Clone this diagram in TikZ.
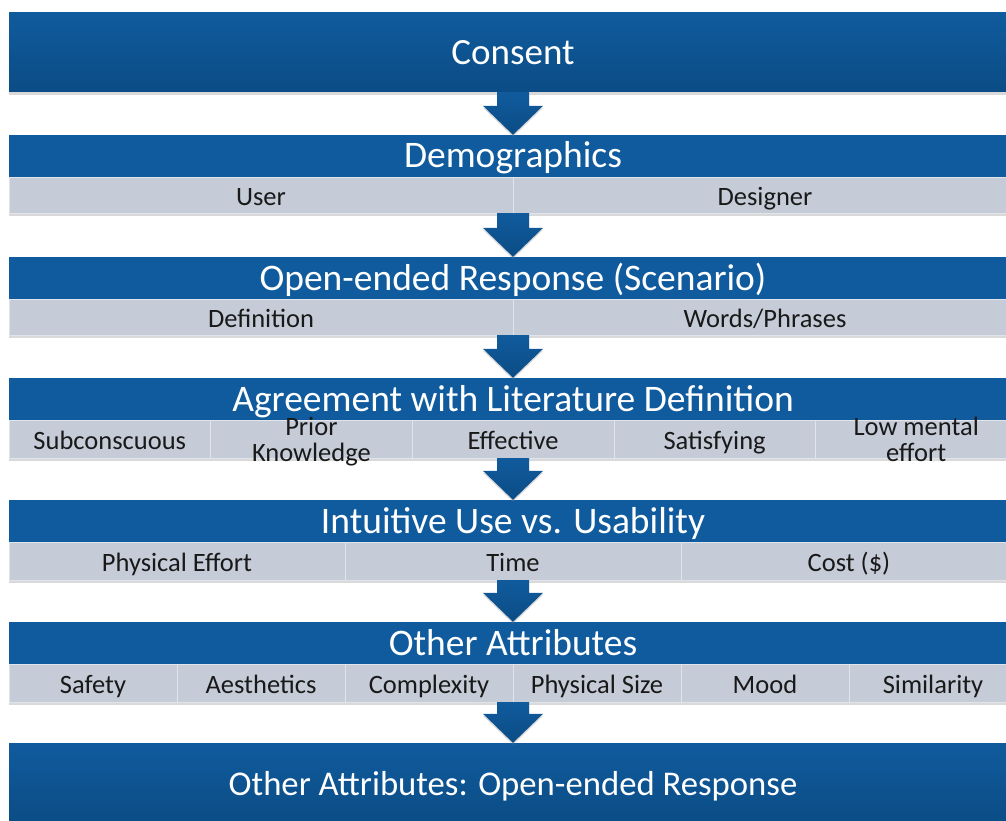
\documentclass[tikz,border=0pt]{standalone}
\usepackage{fontspec}
\setmainfont{Carlito}
\usetikzlibrary{calc,shadows}

\definecolor{barblue}{RGB}{16,91,157}
\definecolor{bardark}{RGB}{11,76,133}
\definecolor{cellgrey}{RGB}{197,204,216}
\definecolor{cellline}{RGB}{224,228,235}

\tikzset{
    stage/.style = {inner sep=0pt, minimum width=1008pt, text=white,
        top color=barblue, bottom color=bardark, font=\fontsize{37}{40}\selectfont,
        text height=30pt, text depth=6pt,
        drop shadow={shadow xshift=0pt, shadow yshift=-3pt, opacity=.3}},
    title/.style = {inner sep=0pt, minimum width=1008pt, minimum height=42pt,
        fill=barblue, text=white, font=\fontsize{37.5}{40}\selectfont,
        text height=30pt, text depth=6pt},
    row/.style = {inner sep=0pt, minimum width=1008pt, fill=cellgrey, draw=cellline,
        drop shadow={shadow xshift=0pt, shadow yshift=-3pt, opacity=.3}},
    cell/.style = {inner sep=0pt, draw=cellline, text=black!90,
        font=\fontsize{26.5}{26}\selectfont, text height=25pt, text depth=5pt},
    flowfill/.style = {top color=barblue, bottom color=bardark,
        drop shadow={shadow xshift=0pt, shadow yshift=-2pt, opacity=.3}},
}

% two short lines in one cell, spilling over its edges
\newcommand\twoline[2]{\smash{\raisebox{-12.5pt}{\begin{tabular}[b]{@{}c@{}}#1\\#2\end{tabular}}}}

% grey row under a title: name, y, height, number of cells, labels
\newcommand\cellrow[5]{%
    \node[row, minimum height=#3pt] (#1) at (513, #2) {};
    \pgfmathsetmacro\cellw{1008/#4}
    \foreach \lbl [count=\i] in {#5}
        \node[cell, minimum width=\cellw pt, minimum height=#3pt] (#1-\i)
            at ({9+(\i-0.5)*\cellw}, #2) {\lbl};
}

% block arrow from one stage down to the next
\newcommand\flowarrow[2]{%
    \path[flowfill] let \p1 = (#1.south), \p2 = (#2.north) in
        (\x1-16pt,\y1) -- (\x1+16pt,\y1) -- (\x1+16pt,\y2+29pt) -- (\x1+30pt,\y2+29pt)
        -- (\x1,\y2) -- (\x1-30pt,\y2+29pt) -- (\x1-16pt,\y2+29pt) -- cycle;
}

\begin{document}
\begin{tikzpicture}[x=1pt, y=-1pt]
    \useasboundingbox (0,0) rectangle (1006,821);
    \clip (0,0) rectangle (1006,821);

    \node[stage, minimum height=79pt] (consent) at (513, 52.5) {Consent};

    \node[title] (demo) at (513, 156) {Demographics};
    \cellrow{demo-row}{195}{36}{2}{User,Designer}

    \node[title] (open) at (513, 278) {Open-ended Response (Scenario)};
    \cellrow{open-row}{317}{36}{2}{Definition,Words/Phrases}

    \node[title] (agree) at (513, 399) {Agreement with Literature Definition};
    \cellrow{agree-row}{439}{38}{5}{Subconscuous,\twoline{Prior}{Knowledge},Effective,Satisfying,\twoline{Low mental}{effort}}

    \node[title] (use) at (513, 521) {Intuitive Use vs. Usability};
    \cellrow{use-row}{561}{38}{3}{Physical Effort,Time,Cost (\$)}

    \node[title] (other) at (513, 643) {Other Attributes};
    \cellrow{other-row}{683}{38}{6}{Safety,Aesthetics,Complexity,Physical Size,Mood,Similarity}

    \node[stage, minimum height=80pt, font=\fontsize{34.7}{40}\selectfont] (final) at (513, 783) {Other Attributes: Open-ended Response};

    %%%%%%%%%%%%%%%%%%%%
    \flowarrow{consent}{demo}
    \flowarrow{demo-row}{open}
    \flowarrow{open-row}{agree}
    \flowarrow{agree-row}{use}
    \flowarrow{use-row}{other}
    \flowarrow{other-row}{final}
\end{tikzpicture}
\end{document}
